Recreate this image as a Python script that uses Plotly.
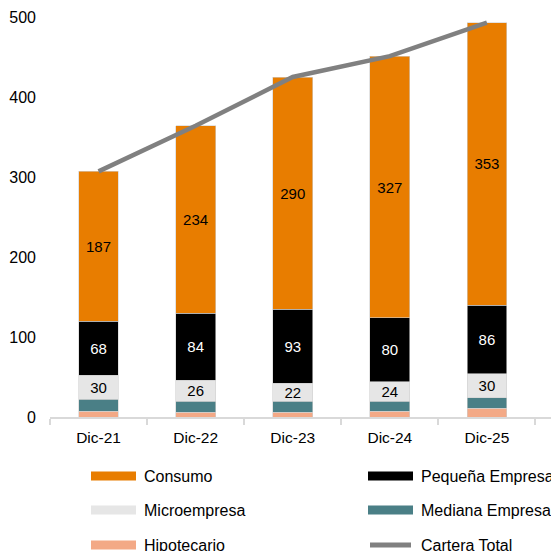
import plotly.graph_objects as go

categories = ["Dic-21", "Dic-22", "Dic-23", "Dic-24", "Dic-25"]
hipotecario = [7, 6, 6, 7, 11]
mediana = [15, 14, 14, 13, 13]
microempresa = [30, 26, 22, 24, 30]
pequena = [68, 84, 93, 80, 86]
consumo = [187, 234, 290, 327, 353]
cartera_total = [307, 364, 425, 451, 493]
y_ticks = [0, 100, 200, 300, 400, 500]

FONT = "Liberation Sans, Arial, sans-serif"
C_CONS = "#E87D00"
C_PEQ = "#000000"
C_MICRO = "#E6E6E6"
C_MED = "#4A7F86"
C_HIP = "#F3A986"
C_LINE = "#808080"

W, H = 551, 551
ML, MR, MT, MB = 50, 0, 17, 134

fig = go.Figure()

def bar(name, vals, color, text=False, tcolor="black"):
    fig.add_trace(go.Bar(
        name=name, x=categories, y=vals,
        marker=dict(color=color, line=dict(width=0.6, color="#D0D0D0")),
        text=[str(v) for v in vals] if text else None,
        textposition="inside" if text else "none",
        insidetextanchor="middle", textangle=0,
        textfont=dict(family=FONT, size=15, color=tcolor),
        showlegend=False, hoverinfo="skip",
    ))

bar("Hipotecario", hipotecario, C_HIP)
bar("Mediana Empresa", mediana, C_MED)
bar("Microempresa", microempresa, C_MICRO, True, "black")
bar("Pequeña Empresa", pequena, C_PEQ, True, "white")
bar("Consumo", consumo, C_CONS, True, "black")

fig.add_trace(go.Scatter(
    name="Cartera Total", x=categories, y=cartera_total, mode="lines",
    line=dict(color=C_LINE, width=4.5), showlegend=False, hoverinfo="skip",
))

# legend drawn manually (wide swatches as in reference)
pw = W - ML - MR
ph = H - MT - MB
def px2x(px): return (px - ML) / pw
def py2y(py): return (H - MB - py) / ph

legend_items = [
    ("Consumo", C_CONS, "bar", 91, 476),
    ("Pequeña Empresa", C_PEQ, "bar", 368, 476),
    ("Microempresa", C_MICRO, "bar", 91, 510),
    ("Mediana Empresa", C_MED, "bar", 368, 510),
    ("Hipotecario", C_HIP, "bar", 91, 545),
    ("Cartera Total", C_LINE, "line", 368, 545),
]
shapes = []
annotations = []
for name, color, kind, x0, yc in legend_items:
    if kind == "bar":
        shapes.append(dict(type="rect", xref="paper", yref="paper",
                           x0=px2x(x0), x1=px2x(x0 + 45),
                           y0=py2y(yc - 4.5), y1=py2y(yc + 4.5),
                           fillcolor=color, line=dict(width=0)))
    else:
        shapes.append(dict(type="line", xref="paper", yref="paper",
                           x0=px2x(x0 + 2), x1=px2x(x0 + 43),
                           y0=py2y(yc), y1=py2y(yc),
                           line=dict(color=color, width=5)))
    annotations.append(dict(xref="paper", yref="paper", x=px2x(x0 + 53), y=py2y(yc),
                            text=name, showarrow=False, xanchor="left", yanchor="middle",
                            borderpad=0, borderwidth=0,
                            font=dict(family=FONT, size=16, color="black")))

fig.update_layout(
    width=W, height=H, barmode="stack", bargap=0.59,
    margin=dict(l=ML, r=MR, t=MT, b=MB, pad=0),
    paper_bgcolor="white", plot_bgcolor="white",
    font=dict(family=FONT, size=16, color="black"),
    uniformtext=dict(minsize=15, mode="show"),
    shapes=shapes, annotations=annotations,
    xaxis=dict(type="category", range=[-0.5, 4.66], tickson="boundaries",
               ticks="outside", ticklen=6, tickcolor="#D9D9D9", tickwidth=1.5,
               showline=True, linecolor="#D9D9D9", linewidth=1.5,
               showgrid=False, ticklabelstandoff=6,
               tickfont=dict(family=FONT, size=15.5, color="black")),
    yaxis=dict(range=[0, 500], tickvals=y_ticks, showgrid=False, zeroline=False,
               showline=False, ticks="", ticklabelstandoff=13,
               tickfont=dict(family=FONT, size=16, color="black")),
)

fig.write_html("out.html")
